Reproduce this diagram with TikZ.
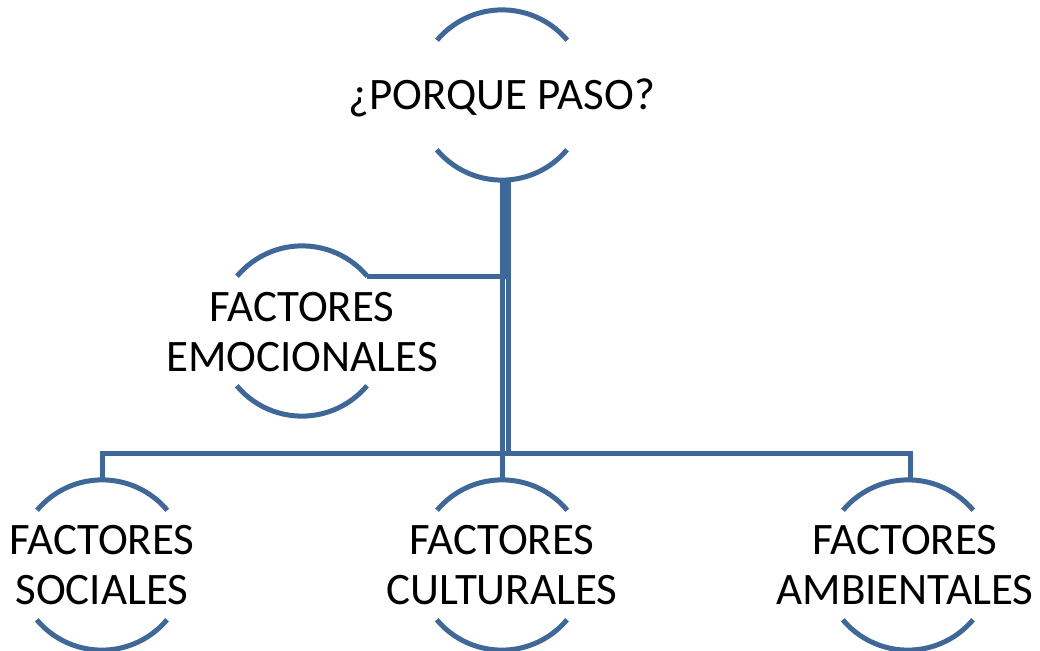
\documentclass[tikz,border=0pt]{standalone}
\usepackage{fontspec}
\setmainfont{Carlito}
\definecolor{sablue}{HTML}{3F6899}
\begin{document}
\begin{tikzpicture}[x=1pt,y=-1pt,
  ring/.style={circle,minimum size=170pt,inner sep=0pt},
  arcline/.style={draw=sablue,line width=5pt},
  conn/.style={draw=sablue,line width=5pt,line join=miter},
  lbl/.style={align=center,font=\fontsize{45}{50}\selectfont,inner sep=0pt,text=black}]
\useasboundingbox (0,0) rectangle (1040,650);
\fill[white] (0,0) rectangle (1040,650);
% circles
\node[ring] (top) at (502,95) {};
\node[ring] (emo) at (302,331) {};
\node[ring] (soc) at (102,565) {};
\node[ring] (cul) at (502,565) {};
\node[ring] (amb) at (908,565) {};
\foreach \n in {top,emo,soc,cul,amb}{
  \draw[arcline] (\n.40) arc[start angle=40,end angle=140,radius=85pt];
  \draw[arcline] (\n.220) arc[start angle=220,end angle=320,radius=85pt];
}
% labels
\node[lbl] (toptxt) at (502,98) {¿PORQUE PASO?};
\node[lbl] (emotxt) at (302,332) {FACTORES\\EMOCIONALES};
\node[lbl] (soctxt) at (102,565) {FACTORES\\SOCIALES};
\node[lbl] (cultxt) at (502,565) {FACTORES\\CULTURALES};
\node[lbl] (ambtxt) at (905,565) {FACTORES\\AMBIENTALES};
% connectors
\coordinate (j) at (502,453);
\draw[conn] ([xshift=0.5pt]top.south) -- ([xshift=0.5pt]top.south |- j);
\draw[conn] ([xshift=6.5pt]top.south) -- ([xshift=6.5pt]top.south |- j);
\draw[conn] ([xshift=3.5pt]top.south) |- (emo.40);
\draw[conn] (soc.north) |- ([xshift=2pt]amb.north |- j) -- ([xshift=2pt]amb.north);
\draw[conn] ([xshift=0.5pt]cul.north) -- ([xshift=0.5pt]cul.north |- j);
\end{tikzpicture}
\end{document}
